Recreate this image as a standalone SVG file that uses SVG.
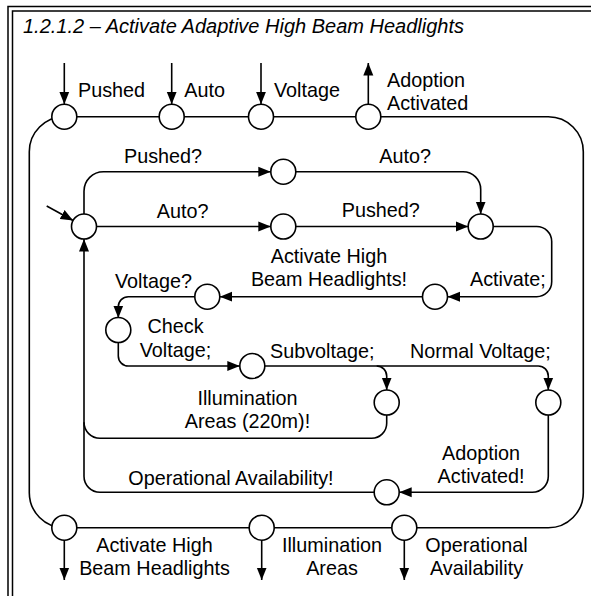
<svg xmlns="http://www.w3.org/2000/svg" width="591" height="596" viewBox="0 0 591 596">
<style>
.t{font-family:"Liberation Sans",Arial,sans-serif;font-size:19.8px;fill:#000}
.m{text-anchor:middle}
.title{font-family:"Liberation Sans",Arial,sans-serif;font-size:20px;font-style:italic;fill:#000}
.ln{fill:none;stroke:#000;stroke-width:1.6}
.ar{fill:none;stroke:#000;stroke-width:1.6;marker-end:url(#ah)}
.st{fill:#fff;stroke:#000;stroke-width:1.6}
.fr{fill:none;stroke:#000;stroke-width:1.5}
</style>
<defs>
<marker id="ah" markerUnits="userSpaceOnUse" markerWidth="13" markerHeight="11" refX="12.5" refY="5.5" orient="auto">
<path d="M0,0.5 L12.5,5.5 L0,10.5 z" fill="#000"/>
</marker>
</defs>
<rect width="591" height="596" fill="#fff"/>
<g id="frame">
<path class="fr" d="M8,596 V6.5 H591"/>
<path class="fr" d="M12.5,596 V11 H591"/>
<text class="title" x="23" y="33">1.2.1.2 – Activate Adaptive High Beam Headlights</text>
</g>
<g id="connectors">
<rect class="ln" x="29.3" y="116.7" width="554" height="411" rx="35" ry="35"/>
<path class="ar" d="M64.3,63 V104.2"/>
<path class="ar" d="M171.7,63 V104.2"/>
<path class="ar" d="M261,63 V104.2"/>
<path class="ar" d="M368.3,104.2 V63"/>
<path class="ar" d="M64.3,540.2 V580"/>
<path class="ar" d="M261.7,540.2 V580"/>
<path class="ar" d="M404.3,540.2 V580"/>
<path class="ar" d="M46.7,206 L73.1,220.5"/>
<path class="ar" d="M84,214 V191.2 A19.5,19.5 0 0 1 103.5,171.7 H270.8"/>
<path class="ar" d="M96.5,226.5 H270.8"/>
<path class="ar" d="M295.8,171.7 H463 A17.7,17.7 0 0 1 480.7,189.4 V214"/>
<path class="ar" d="M295.8,226.5 H468.2"/>
<path class="ar" d="M493.2,226.5 H536.7 A15,15 0 0 1 551.7,241.5 V281.7 A15,15 0 0 1 536.7,296.7 H447.5"/>
<path class="ar" d="M422.5,296.7 H219.8"/>
<path class="ar" d="M194.8,296.7 H128.3 A10,10 0 0 0 118.3,306.7 V318"/>
<path class="ar" d="M118.3,342 V356 A10,10 0 0 0 128.3,366 H239.8"/>
<path class="ar" d="M264.8,366 H538.3 A10,10 0 0 1 548.3,376 V390"/>
<path class="ar" d="M376.7,366 A10,10 0 0 1 386.7,376 V390"/>
<path class="ln" d="M386.7,415 V423.3 A15,15 0 0 1 371.7,438.3 H100 A16,16 0 0 1 84,422.3"/>
<path class="ar" d="M374.2,492.3 H100 A16,16 0 0 1 84,476.3 V239"/>
<path class="ar" d="M548.3,415 V476.3 A16,16 0 0 1 532.3,492.3 H399.2"/>
</g>
<g id="n-pushed"><circle class="st" cx="64.3" cy="116.7" r="12.5"/><text class="t" x="78" y="97.3">Pushed</text></g>
<g id="n-auto"><circle class="st" cx="171.7" cy="116.7" r="12.5"/><text class="t" x="184.3" y="97.3">Auto</text></g>
<g id="n-voltage"><circle class="st" cx="261" cy="116.7" r="12.5"/><text class="t" x="274" y="97.3">Voltage</text></g>
<g id="n-adoption-out"><circle class="st" cx="368.3" cy="116.7" r="12.5"/><text class="t" x="387" y="87">Adoption</text><text class="t" x="387" y="109.5">Activated</text></g>
<g id="n-start"><circle class="st" cx="84" cy="226.5" r="12.5"/></g>
<g id="n-s1"><circle class="st" cx="283.3" cy="171.7" r="12.5"/><text class="t" x="124" y="162.7">Pushed?</text><text class="t" x="379.3" y="163.3">Auto?</text></g>
<g id="n-s2"><circle class="st" cx="283.3" cy="226.5" r="12.5"/><text class="t" x="156.7" y="217.7">Auto?</text><text class="t" x="341.7" y="216.7">Pushed?</text></g>
<g id="n-junction"><circle class="st" cx="480.7" cy="226.5" r="12.5"/><text class="t" x="470" y="286">Activate;</text></g>
<g id="n-activated"><circle class="st" cx="435" cy="296.7" r="12.5"/><text class="t m" x="329" y="262.7">Activate High</text><text class="t m" x="329" y="286">Beam Headlights!</text></g>
<g id="n-voltq"><circle class="st" cx="207.3" cy="296.7" r="12.5"/><text class="t" x="115" y="287.7">Voltage?</text></g>
<g id="n-check"><circle class="st" cx="118.3" cy="330" r="12.5"/><text class="t m" x="175.5" y="333.3">Check</text><text class="t m" x="175.5" y="356.7">Voltage;</text></g>
<g id="n-checked"><circle class="st" cx="252.3" cy="366" r="12.5"/><text class="t" x="270" y="358.3">Subvoltage;</text><text class="t" x="410" y="358.3">Normal Voltage;</text></g>
<g id="n-sub"><circle class="st" cx="386.7" cy="402.5" r="12.5"/><text class="t m" x="247.5" y="405">Illumination</text><text class="t m" x="247.5" y="428.3">Areas (220m)!</text></g>
<g id="n-normal"><circle class="st" cx="548.3" cy="402.5" r="12.5"/><text class="t m" x="481" y="460">Adoption</text><text class="t m" x="481" y="483.3">Activated!</text></g>
<g id="n-opavail"><circle class="st" cx="386.7" cy="492.3" r="12.5"/><text class="t" x="128.3" y="485">Operational Availability!</text></g>
<g id="n-out-ahb"><circle class="st" cx="64.3" cy="527.7" r="12.5"/><text class="t m" x="154.5" y="551.7">Activate High</text><text class="t m" x="154.5" y="575">Beam Headlights</text></g>
<g id="n-out-ia"><circle class="st" cx="261.7" cy="527.7" r="12.5"/><text class="t m" x="332" y="551.7">Illumination</text><text class="t m" x="332" y="575">Areas</text></g>
<g id="n-out-oa"><circle class="st" cx="404.3" cy="527.7" r="12.5"/><text class="t m" x="476.5" y="551.7">Operational</text><text class="t m" x="476.5" y="575">Availability</text></g>
</svg>
